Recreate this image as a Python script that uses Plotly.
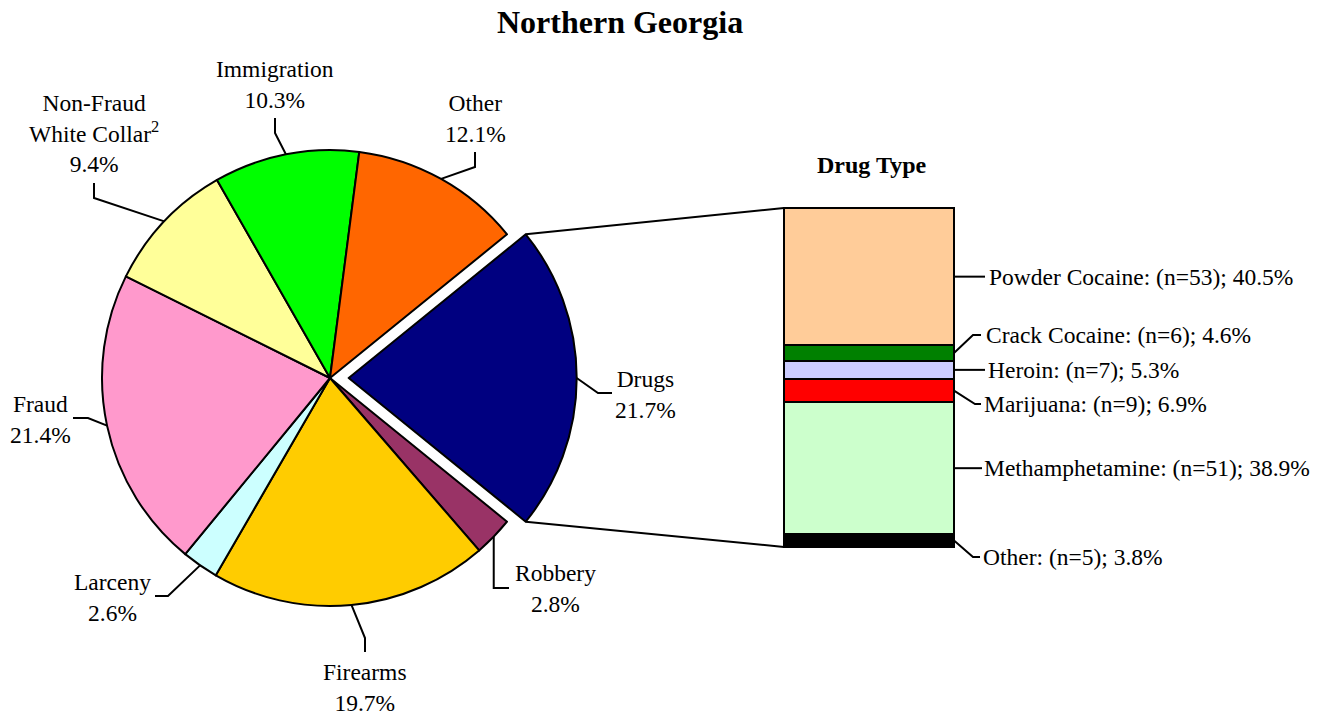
import math
import plotly.graph_objects as go

# ---------------- data ----------------
categories = ["Drugs", "Robbery", "Firearms", "Larceny", "Fraud",
              "Non-Fraud White Collar", "Immigration", "Other"]
category_labels = ["Drugs", "Robbery", "Firearms", "Larceny", "Fraud",
                   "Non-Fraud<br>White Collar<sup>2</sup>", "Immigration", "Other"]
category_pct = [21.7, 2.8, 19.7, 2.6, 21.4, 9.4, 10.3, 12.1]
category_colors = ["#000080", "#993366", "#FFCC00", "#CCFFFF", "#FF99CC",
                   "#FFFF99", "#00FF00", "#FF6600"]

drug_types = ["Powder Cocaine", "Crack Cocaine", "Heroin", "Marijuana",
              "Methamphetamine", "Other"]
drug_n = [53, 6, 7, 9, 51, 5]
drug_pct = [40.5, 4.6, 5.3, 6.9, 38.9, 3.8]
drug_colors = ["#FFCC99", "#008000", "#CCCCFF", "#FF0000", "#CCFFCC", "#000000"]

title_text = "Northern Georgia"
bar_title = "Drug Type"

# ---------------- layout geometry (pixels) ----------------
W, H = 1331, 715
FONT = "Liberation Serif, Times New Roman, serif"
FS = 23.5
LW = 2.0

def P(x, y):
    return x / W, 1 - y / H

# pie geometry
CX, CY, R, PULL = 330.0, 378.0, 228.0, 0.082
half = R * (1 + PULL)
pie_dom_x = [(CX - half) / W, (CX + half) / W]
pie_dom_y = [1 - (CY + half) / H, 1 - (CY - half) / H]
ROT = 90 - category_pct[0] * 3.6 / 2  # Drugs centred at 3 o'clock

# bar geometry
BX0, BX1, BY0, BY1 = 784.0, 954.0, 208.0, 547.0
PAD = 4.0
total_drug = sum(drug_pct)
x_pad = PAD / (BX1 - BX0)
y_pad = PAD / (BY1 - BY0) * total_drug

def bar_y(v):  # cumulative value from bottom -> pixel y
    return BY1 - v / total_drug * (BY1 - BY0)

fig = go.Figure()

fig.add_trace(go.Pie(
    labels=categories, values=category_pct, sort=False, direction="clockwise",
    rotation=ROT, pull=[PULL] + [0] * (len(categories) - 1),
    marker=dict(colors=category_colors, line=dict(color="black", width=LW)),
    textinfo="none", hoverinfo="label+percent", showlegend=False,
    domain=dict(x=pie_dom_x, y=pie_dom_y),
))

# stacked bar (bottom to top: reversed list order)
for name, v, c in reversed(list(zip(drug_types, drug_pct, drug_colors))):
    fig.add_trace(go.Bar(
        x=[0], y=[v], width=1, name=name, showlegend=False,
        marker=dict(color=c, line=dict(color="black", width=LW)),
        xaxis="x", yaxis="y",
    ))

shapes = []
annotations = []

def path_shape(points, width=LW):
    d = ""
    for i, (x, y) in enumerate(points):
        px, py = P(x, y)
        d += ("M" if i == 0 else " L") + f" {px:.6f} {py:.6f}"
    shapes.append(dict(type="path", path=d, xref="paper", yref="paper",
                       line=dict(color="black", width=width)))

def text_ann(x, y, text, anchor="center", size=FS, bold=False):
    px, py = P(x, y)
    annotations.append(dict(
        x=px, y=py, xref="paper", yref="paper", text=f"<b>{text}</b>" if bold else text,
        showarrow=False, xanchor=anchor, yanchor="middle", align=anchor,
        font=dict(family=FONT, size=size, color="black"),
    ))

# slice geometry helpers (bearing clockwise from 12 o'clock, degrees)
def slice_edge(i):
    start = ROT + sum(category_pct[:i]) * 3.6
    mid = math.radians(start + category_pct[i] * 1.8)
    cx, cy = CX, CY
    if i == 0:
        cx += PULL * R * math.sin(mid)
        cy -= PULL * R * math.cos(mid)
    return cx + R * math.sin(mid), cy - R * math.cos(mid)

def drugs_corner(which):
    ang = ROT if which == 0 else ROT + category_pct[0] * 3.6
    mid = math.radians(ROT + category_pct[0] * 1.8)
    cx = CX + PULL * R * math.sin(mid)
    cy = CY - PULL * R * math.cos(mid)
    a = math.radians(ang)
    return cx + R * math.sin(a), cy - R * math.cos(a)

# pie labels: (leader waypoints after edge, label centre x, y)
pie_label_layout = {
    "Drugs": ([(598, 393), (612, 393)], 645, 395),
    "Robbery": ([("edge", 588), (509, 588)], 555, 588),
    "Firearms": ([(365, 638), (365, 652)], 365, 687),
    "Larceny": ([(168, 596), (155, 596)], 112, 597),
    "Fraud": ([(88, 418), (73, 418)], 40, 419),
    "Non-Fraud White Collar": ([(94, 198), (94, 183)], 94, 133),
    "Immigration": ([(275, 133), (275, 118)], 275, 85),
    "Other": ([(475, 167), (475, 152)], 475, 118),
}

for i, name in enumerate(categories):
    pts_after, lx, ly = pie_label_layout[name]
    ex, ey = slice_edge(i)
    pts = [(ex, ey)] + [((ex if x == "edge" else x), y) for x, y in pts_after]
    path_shape(pts)
    text_ann(lx, ly, f"{category_labels[i]}<br>{category_pct[i]:.1f}%")

# connectors from exploded drugs slice to the bar
ux, uy = drugs_corner(0)
lx_, ly_ = drugs_corner(1)
path_shape([(ux, uy), (BX0, BY0)])
path_shape([(lx_, ly_), (BX0, BY1)])

# bar labels
bar_label_layout = {
    "Powder Cocaine": ([(985, None)], 987, None),
    "Crack Cocaine": ([(973, 335), (981, 335)], 984, 335),
    "Heroin": ([(985, None)], 986, None),
    "Marijuana": ([(975, 404), (981, 404)], 982, 404),
    "Methamphetamine": ([(982, None)], 982, None),
    "Other": ([(973, 557), (980, 557)], 981, 557),
}
cum = 0.0
mids = {}
for name, v in reversed(list(zip(drug_types, drug_pct))):
    mids[name] = bar_y(cum + v / 2)
    cum += v

for name, n, v in zip(drug_types, drug_n, drug_pct):
    pts_after, tx, ty = bar_label_layout[name]
    my = mids[name]
    pts = [(BX1, my)] + [(x, my if y is None else y) for x, y in pts_after]
    path_shape(pts)
    text_ann(tx, my if ty is None else ty, f"{name}: (n={n}); {v:.1f}%", anchor="left")

# titles
text_ann(620, 22, title_text, size=32, bold=True)
text_ann(871, 165, bar_title, size=24, bold=True)

fig.update_layout(
    width=W, height=H,
    margin=dict(l=0, r=0, t=0, b=0),
    paper_bgcolor="white", plot_bgcolor="white",
    barmode="stack", bargap=0,
    xaxis=dict(domain=[(BX0 - PAD) / W, (BX1 + PAD) / W], range=[-0.5 - x_pad, 0.5 + x_pad],
               visible=False, fixedrange=True),
    yaxis=dict(domain=[1 - (BY1 + PAD) / H, 1 - (BY0 - PAD) / H], range=[-y_pad, total_drug + y_pad],
               visible=False, fixedrange=True),
    shapes=shapes, annotations=annotations,
    font=dict(family=FONT, color="black"),
    showlegend=False,
)

fig.write_html("out.html",
               config={"displayModeBar": False},
               post_script="document.body.style.margin='0';document.body.style.overflow='hidden';")
